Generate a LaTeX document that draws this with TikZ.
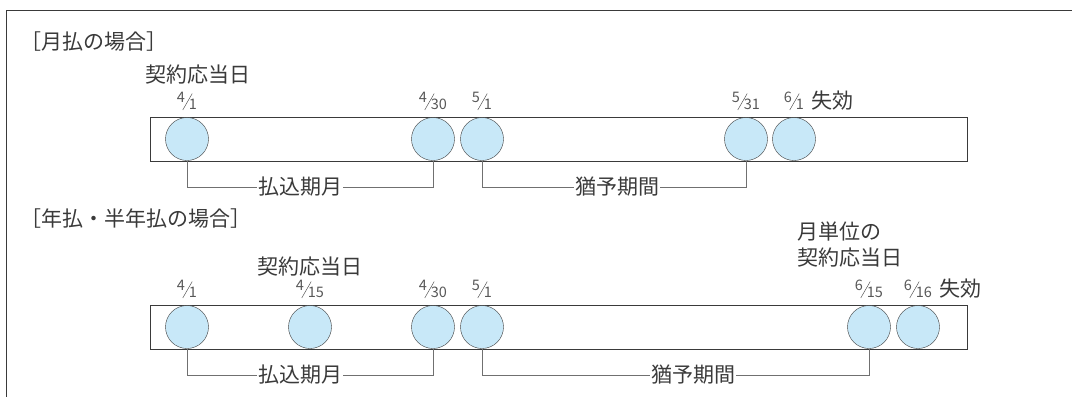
\documentclass[tikz,border=0pt]{standalone}
\usepackage{fontspec}
\setmainfont{Noto Sans CJK JP}
\usetikzlibrary{positioning}
\definecolor{daycolor}{HTML}{C8E8F8}
\definecolor{inkcolor}{HTML}{3A3A3A}
\definecolor{rulecolor}{HTML}{707070}
\newcommand{\frc}[2]{\raisebox{7pt}{#1}\kern-2.5pt\raisebox{-1pt}{\rotatebox{60}{\rule{19pt}{0.5pt}}}\kern-3.5pt#2}
\tikzstyle{day}=[circle,draw=inkcolor,fill=daycolor,minimum size=43pt,inner sep=0pt]
\tikzstyle{bar}=[draw=inkcolor,minimum width=817pt,minimum height=44pt,inner sep=0pt]
\tikzstyle{date}=[font=\fontsize{14.5}{14.5}\selectfont,text=inkcolor!85,inner sep=1pt]
\tikzstyle{big}=[font=\fontsize{21}{26}\selectfont,text=inkcolor,inner sep=0pt]
\tikzstyle{period}=[big,inner sep=1pt]
\tikzstyle{bracket}=[draw=rulecolor,line width=0.8pt]

\begin{document}
\begin{tikzpicture}[x=1pt,y=-1pt]
    \useasboundingbox (0,0) rectangle (1072,397);
    % open frame, top and left only
    \draw[inkcolor] (1072,10) -- (6,10) -- (6,397);

    % monthly payment
    \node[big,anchor=west] (title1) at (20,42) {［月払の場合］};
    \node[bar] (bar1) at (558.5,139) {};
    \foreach \pos/\name/\num/\den in {187/a1/4/1, 433/a2/4/30, 482/a3/5/1, 746/a4/5/31, 794/a5/6/1}
    {
        \node[day] (\name) at (\pos,139) {};
        \node[date,above=6pt of \name] (d\name) {\frc{\num}{\den}};
    }
    \node[big] (due1) at (198,75) {契約応当日};
    \node[big,right=6pt of da5] (lapse1) {失効};
    \node[period] (pay1) at (300,187) {払込期月};
    \node[period] (grace1) at (617,187) {猶予期間};
    \draw[bracket] (a1.south) |- (pay1.west);
    \draw[bracket] (pay1.east) -| (a2.south);
    \draw[bracket] (a3.south) |- (grace1.west);
    \draw[bracket] (grace1.east) -| (a4.south);

    % annual / semiannual payment
    \node[big,anchor=west] (title2) at (20,219) {［年払・半年払の場合］};
    \node[bar] (bar2) at (558.5,327) {};
    \foreach \pos/\name/\num/\den in {187/b1/4/1, 310/b2/4/15, 433/b3/4/30, 482/b4/5/1, 869/b5/6/15, 918/b6/6/16}
    {
        \node[day] (\name) at (\pos,327) {};
        \node[date,above=6pt of \name] (d\name) {\frc{\num}{\den}};
    }
    \node[big] (due2) at (310,267) {契約応当日};
    \node[big,align=left,anchor=west] (due3) at (797,245) {月単位の\\契約応当日};
    \node[big,right=6pt of db6] (lapse2) {失効};
    \node[period] (pay2) at (300,375) {払込期月};
    \node[period] (grace2) at (693,375) {猶予期間};
    \draw[bracket] (b1.south) |- (pay2.west);
    \draw[bracket] (pay2.east) -| (b3.south);
    \draw[bracket] (b4.south) |- (grace2.west);
    \draw[bracket] (grace2.east) -| (b5.south);
\end{tikzpicture}
\end{document}
